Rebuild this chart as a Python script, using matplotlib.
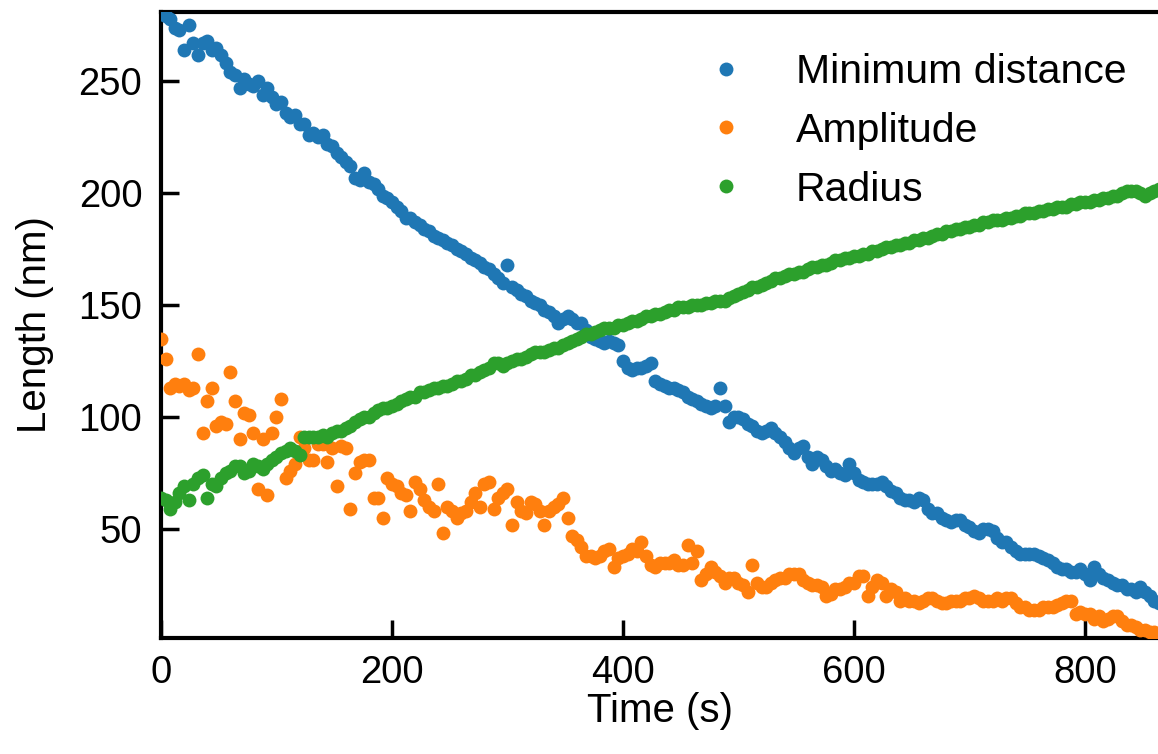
import numpy as np
import matplotlib
matplotlib.use("Agg")
import matplotlib.pyplot as plt

plt.rcParams['font.family'] = ['Liberation Sans', 'DejaVu Sans']

# Time axis (s), sampled every 4 s
time_s = list(range(0, 868, 4))

min_distance = [
    280, 279, 278, 274, 273, 264, 275, 267, 262, 267,
    268, 264, 265, 262, 258, 254, 253, 247, 251, 249,
    248, 250, 244, 247, 243, 240, 241, 236, 234, 235,
    231, 231, 226, 227, 225, 226, 222, 221, 218, 216,
    214, 212, 207, 206, 209, 205, 204, 202, 199, 198,
    196, 194, 192, 189, 189, 187, 186, 184, 183, 181,
    180, 179, 178, 177, 175, 174, 173, 171, 170, 169,
    167, 166, 164, 162, 160, 168, 158, 157, 155, 154,
    152, 151, 150, 148, 147, 145, 142, 144, 145, 144,
    142, 142, 139, 136, 135, 134, 133, 134, 133, 132,
    125, 122, 121, 122, 122, 123, 124, 116, 115, 114,
    113, 113, 112, 111, 109, 108, 107, 106, 105, 104,
    105, 113, 105, 98, 100, 100, 99, 97, 96, 94,
    93, 94, 95, 93, 91, 89, 86, 84, 86, 87,
    82, 79, 82, 81, 78, 76, 77, 75, 74, 79,
    75, 72, 71, 70, 70, 70, 71, 69, 67, 66,
    64, 63, 63, 62, 64, 63, 59, 57, 57, 55,
    54, 53, 54, 54, 52, 51, 49, 48, 50, 50,
    49, 46, 44, 44, 42, 40, 39, 39, 39, 39,
    38, 37, 36, 35, 33, 32, 32, 31, 31, 32,
    30, 27, 33, 30, 28, 27, 26, 25, 25, 23,
    23, 22, 24, 22, 20, 18, 17,
]

amplitude = [
    135, 126, 113, 115, 114, 115, 112, 113, 128, 93,
    107, 113, 96, 98, 97, 120, 107, 90, 102, 101,
    93, 68, 90, 65, 93, 100, 108, 73, 76, 79,
    91, 86, 81, 81, 88, 88, 80, 86, 69, 87,
    86, 59, 75, 80, 81, 81, 64, 64, 55, 73,
    70, 69, 66, 65, 58, 71, 68, 63, 60, 58,
    70, 48, 60, 58, 55, 57, 58, 62, 66, 60,
    70, 71, 59, 64, 66, 68, 52, 62, 58, 57,
    62, 61, 58, 52, 58, 60, 61, 64, 55, 47,
    45, 42, 38, 38, 37, 38, 40, 41, 33, 37,
    38, 39, 41, 40, 44, 38, 34, 33, 35, 35,
    35, 36, 34, 34, 43, 35, 40, 27, 30, 33,
    31, 29, 26, 28, 28, 26, 25, 22, 34, 26,
    24, 24, 26, 27, 28, 28, 30, 30, 30, 27,
    26, 25, 25, 24, 20, 21, 23, 23, 24, 26,
    26, 29, 29, 20, 24, 27, 26, 20, 23, 22,
    18, 19, 18, 18, 17, 18, 19, 19, 18, 17,
    17, 18, 18, 18, 19, 19, 20, 19, 18, 18,
    18, 19, 18, 19, 19, 17, 15, 15, 14, 14,
    14, 15, 15, 15, 16, 17, 18, 18, 12, 13,
    12, 12, 10, 11, 9, 10, 11, 11, 9, 7,
    7, 6, 5, 5, 4, 4, 3,
]

radius = [
    64, 63, 59, 62, 66, 69, 63, 70, 73, 74,
    64, 70, 69, 73, 75, 76, 78, 78, 75, 76,
    79, 78, 77, 79, 81, 82, 84, 85, 86, 85,
    83, 91, 91, 91, 91, 92, 91, 93, 94, 94,
    95, 96, 98, 99, 100, 100, 102, 103, 104, 104,
    105, 106, 107, 108, 109, 109, 111, 111, 112, 113,
    113, 114, 114, 115, 116, 116, 117, 119, 119, 120,
    121, 122, 124, 124, 123, 124, 125, 126, 126, 127,
    128, 129, 129, 129, 130, 131, 131, 132, 133, 134,
    135, 136, 137, 137, 138, 139, 140, 140, 140, 141,
    141, 142, 143, 143, 144, 145, 145, 146, 146, 147,
    148, 148, 149, 149, 149, 150, 150, 150, 151, 151,
    152, 152, 152, 153, 154, 155, 156, 157, 158, 158,
    159, 160, 161, 162, 162, 163, 164, 164, 165, 165,
    166, 167, 167, 168, 168, 169, 170, 170, 171, 171,
    172, 172, 173, 173, 174, 174, 175, 176, 176, 177,
    177, 178, 178, 179, 179, 180, 180, 181, 182, 182,
    183, 183, 184, 184, 185, 185, 186, 186, 187, 187,
    188, 188, 188, 189, 189, 190, 190, 191, 191, 191,
    192, 192, 193, 193, 194, 194, 194, 195, 195, 196,
    196, 196, 197, 197, 198, 198, 199, 199, 200, 201,
    201, 201, 200, 199, 200, 201, 202,
]

series_labels = ["Minimum distance", "Amplitude", "Radius"]
series_colors = ["#1f77b4", "#ff7f0e", "#2ca02c"]
x_ticks = [0, 200, 400, 600, 800]
y_ticks = [50, 100, 150, 200, 250]

W, H = 1158, 754
fig = plt.figure(figsize=(W / 100, H / 100), dpi=100)
ax = fig.add_axes([161 / W, (H - 638) / H, (1160 - 161) / W, (638 - 12) / H])

for vals, lab, col in zip([min_distance, amplitude, radius], series_labels, series_colors):
    ax.scatter(time_s, vals, s=100, color=col, linewidths=0, label=lab, zorder=3)

ax.set_xlim(0, 865)
ax.set_ylim(1.3, 281)
ax.set_xticks(x_ticks)
ax.set_yticks(y_ticks)

for sp in ax.spines.values():
    sp.set_linewidth(3)
ax.tick_params(direction='in', length=13, width=2.5, labelsize=27.5)
ax.tick_params(axis='x', pad=12)
ax.tick_params(axis='y', pad=13.5)

ax.set_xlabel("Time (s)", fontsize=29)
ax.set_ylabel("Length (nm)", fontsize=29)
ax.xaxis.set_label_coords(0.5, (638 - 692) / 626)
ax.yaxis.set_label_coords((54 - 161) / 999, 0.5)

ax.legend(loc='upper left', bbox_to_anchor=(648 / W, 1 - 16 / H),
          bbox_transform=fig.transFigure, frameon=False, fontsize=29.5,
          handletextpad=0.7, labelspacing=0.51, scatterpoints=1,
          scatteryoffsets=[0.5], borderpad=0.4)

fig.savefig("out.png", dpi=100)
